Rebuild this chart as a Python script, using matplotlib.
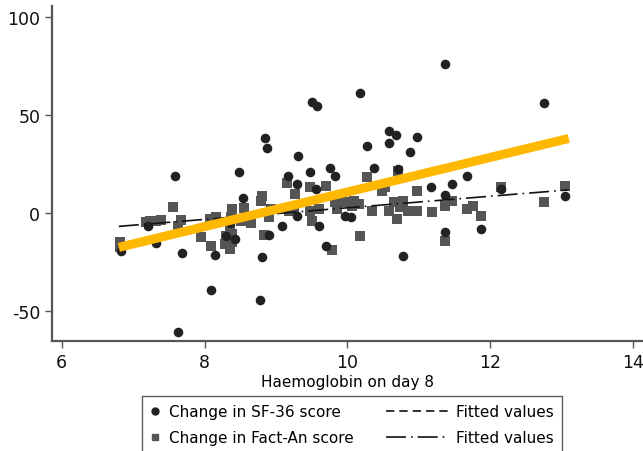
import numpy as np
import matplotlib
matplotlib.use("Agg")
import matplotlib.pyplot as plt
from matplotlib.lines import Line2D
from matplotlib.legend_handler import HandlerLine2D

plt.rcParams['axes.unicode_minus'] = False
plt.rcParams['font.family'] = ['DejaVu Sans']

# ---- change in SF-36 score vs haemoglobin on day 8 ----
sf36_hb = [11.37, 10.18, 9.51, 9.58, 12.76, 8.84, 8.88, 9.31, 10.58, 10.68,
           10.97, 10.58, 10.28, 10.88, 9.48, 9.76, 9.82, 10.38, 11.67, 11.17,
           11.47, 11.37, 7.58, 8.48, 9.17, 9.29, 8.54, 6.83, 7.32, 7.69,
           8.15, 8.30, 8.09, 8.78, 7.63, 8.80, 8.42, 9.56, 9.30, 9.09,
           9.60, 8.90, 9.70, 9.97, 10.71, 10.78, 11.37, 11.87, 12.15, 13.05,
           7.21, 10.05, 8.35]
sf36_change = [76.0, 61.2, 56.8, 54.7, 56.1, 38.1, 33.2, 29.2, 42.0, 39.8,
               38.9, 35.7, 34.0, 30.9, 21.1, 22.8, 18.7, 22.8, 19.0, 13.1,
               14.6, 9.2, 18.7, 21.1, 19.0, 14.8, 7.5, -19.2, -15.3, -20.4,
               -21.4, -11.6, -39.3, -44.2, -60.4, -22.3, -13.3, 12.2, -1.4, -6.5,
               -6.5, -11.2, -17.0, -1.7, 22.5, -22.1, -9.8, -8.2, 12.0, 8.8,
               -6.5, -2.2, -5.0]

# ---- change in Fact-An score vs haemoglobin on day 8 ----
factan_hb = [7.56, 7.23, 7.32, 7.39, 7.67, 7.63, 8.07, 8.16, 6.81, 7.95,
             8.09, 8.28, 8.35, 8.39, 8.30, 8.39, 8.35, 8.39, 8.55, 8.37,
             8.51, 8.65, 8.90, 8.93, 9.18, 9.25, 9.48, 9.60, 9.86, 9.83,
             9.51, 8.83, 9.78, 9.16, 9.70, 9.48, 9.27, 8.81, 8.79, 10.71,
             10.27, 10.48, 10.53, 10.97, 9.97, 10.09, 10.06, 10.16, 10.34, 10.58,
             10.78, 10.74, 10.69, 10.85, 10.97, 11.18, 11.37, 11.46, 11.67, 11.76,
             11.87, 10.18, 11.37, 12.15, 12.76, 13.05, 10.65, 7.18, 6.81]
factan_change = [2.9, -3.9, -3.9, -3.4, -3.6, -6.5, -3.1, -1.9, -15.0, -12.4,
                 -16.7, -15.8, -18.4, -15.0, -11.6, -10.7, -6.5, 2.0, 2.5, -2.2,
                 -3.9, -5.1, -2.2, 2.0, 1.2, 2.9, 1.2, 2.0, 2.0, 5.5,
                 -3.9, -11.2, -18.7, 15.3, 13.9, 13.1, 9.7, 8.8, 6.3, 21.6,
                 18.2, 11.4, 13.1, 11.4, 5.5, 6.3, 3.7, 4.6, 1.2, 1.2,
                 6.3, 2.9, -3.1, 1.2, 1.2, 0.4, 3.7, 6.3, 2.0, 3.4,
                 -1.4, -11.9, -14.1, 13.1, 5.8, 13.6, 5.5, -4.8, -17.5]

# fitted values at the ends of the haemoglobin range
fit_hb = [6.8, 13.1]
sf36_fit = [-17.5, 38.0]
factan_fit = [-6.8, 11.8]


class LongLineHandler(HandlerLine2D):
    """Line handle that reaches further left than the (short) handle box."""
    def get_xdata(self, legend, xdescent, ydescent, width, height, fontsize):
        xdata, xm = super().get_xdata(legend, xdescent, ydescent, width, height, fontsize)
        return np.array([-xdescent - 3.3 * fontsize, -xdescent + width]), xm


fig = plt.figure(figsize=(6.43, 4.52), dpi=100)
ax = fig.add_axes([0.081, 0.243, 0.919, 0.742])

ax.scatter(sf36_hb, sf36_change, s=48, marker='o', color='#222222', zorder=3, linewidths=0)
ax.scatter(factan_hb, factan_change, s=48, marker='s', color='#555555', zorder=2, linewidths=0)

ax.plot(fit_hb, sf36_fit, color='#111111', lw=1.2, dashes=(5, 3), zorder=4)
ax.plot(fit_hb, factan_fit, color='#111111', lw=1.2, dashes=(12, 3, 1, 3), zorder=4)
# highlighted SF-36 trend
ax.plot(fit_hb, sf36_fit, color='#FFB800', lw=6.5, solid_capstyle='butt', zorder=5)

ax.set_xlim(5.865, 14.14)
ax.set_ylim(-65.3, 105.6)
ax.set_xticks([6, 8, 10, 12, 14])
ax.set_yticks([-50, 0, 50, 100])
for side in ['top', 'right']:
    ax.spines[side].set_visible(False)
for side in ['left', 'bottom']:
    ax.spines[side].set_color('#555555')
    ax.spines[side].set_linewidth(1.6)
ax.tick_params(direction='out', length=5, width=1, colors='#555555',
               labelcolor='#111111', labelsize=12.5)
ax.set_xlabel('Haemoglobin on day 8', fontsize=11, labelpad=2)

fit_sf = Line2D([], [], color='#111111', lw=1.2, dashes=(5, 3))
fit_fa = Line2D([], [], color='#111111', lw=1.2, dashes=(12, 3, 1, 3))
handles = [
    Line2D([], [], marker='o', ls='none', color='#222222', markersize=5),
    Line2D([], [], marker='s', ls='none', color='#555555', markersize=5),
    fit_sf,
    fit_fa,
]
labels = ['Change in SF-36 score', 'Change in Fact-An score',
          'Fitted values', 'Fitted values']
fig.legend(handles, labels, ncol=2, loc='upper center',
           bbox_to_anchor=(0.547, 0.121), fontsize=11, frameon=True,
           fancybox=False, edgecolor='#333333', handlelength=0.8,
           handletextpad=0.5, columnspacing=5.4, borderpad=0.5,
           labelspacing=0.75, borderaxespad=0,
           handler_map={fit_sf: LongLineHandler(), fit_fa: LongLineHandler()})

fig.savefig('out.png', dpi=100)
